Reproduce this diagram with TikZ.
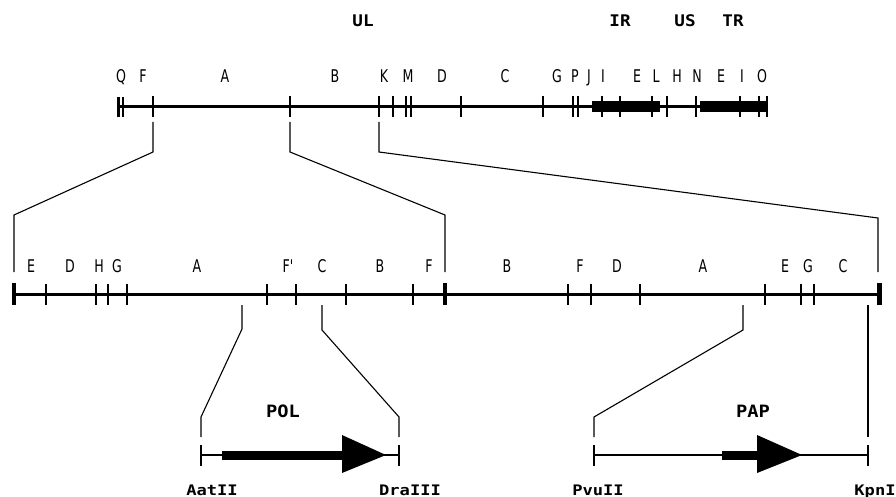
\documentclass[tikz,border=0pt]{standalone}
\usepackage{fontspec}
\newfontfamily\thinfont[FakeStretch=0.72]{DejaVu Sans}
\newfontfamily\boldfont[FakeStretch=1.1]{DejaVu Sans Mono Bold}
\newfontfamily\sitefont[FakeStretch=1.18]{DejaVu Sans Mono Bold}
\begin{document}
\begin{tikzpicture}[x=1pt,y=-1pt,
  seg/.style={font=\thinfont\fontsize{17.5}{17.5}\selectfont, inner sep=0pt, anchor=base},
  bold/.style={font=\boldfont\fontsize{16}{16}\selectfont, inner sep=0pt, anchor=base},
  site/.style={font=\sitefont\fontsize{14.5}{14.5}\selectfont, inner sep=0pt, anchor=base},
  mapline/.style={line width=3pt},
  tickmark/.style={line width=1.4pt},
  conn/.style={line width=1.1pt, line join=miter},
  endbar/.style={line width=4pt}]
\useasboundingbox (0,0) rectangle (896,497);
% ---------------- top map ----------------
\node[bold] (ul) at (363,27) {UL};
\node[bold] (ir) at (620,27) {IR};
\node[bold] (us) at (685,27) {US};
\node[bold] (tr) at (733,27) {TR};
\foreach \x/\t [count=\i] in {121/Q,143/F,225/A,335/B,384/K,408/M,442/D,505/C,557/G,575/P,589/J,603/I,637/E,656/L,677/H,697/N,721/E,742/I,762/O}
  \node[seg] (t\i) at (\x,83) {\t};
\draw[mapline] (118,107) -- (768,107);
\fill (592,101) rectangle (660,112);
\fill (700,101) rectangle (768,112);
\draw[line width=2.5pt] (118.5,97) -- (118.5,117);
\draw[line width=2.5pt] (123,97) -- (123,117);
\foreach \x in {153,290,379,393,406,411,461,543,573,578,602,620,652,667,696,740,759}
  \draw[tickmark] (\x,96) -- (\x,117);
\draw[line width=2pt] (767,96) -- (767,117);
% ---------------- middle map ----------------
\foreach \x/\t [count=\i] in {31/E,70/D,99/H,117/G,197/A,288/F',322/C,380/B,429/F,507/B,580/F,617/D,703/A,785/E,808/G,843/C}
  \node[seg] (m\i) at (\x,272) {\t};
\draw[mapline] (14,294) -- (879,294);
\foreach \x in {46,96,108,127,267,296,346,413,568,591,640,765,801,814}
  \draw[tickmark] (\x,284) -- (\x,305);
\draw[endbar] (14,283) -- (14,305);
\draw[endbar] (445,283) -- (445,305);
\draw[line width=5pt] (879,283) -- (879,305);
% ---------------- connectors top -> middle ----------------
\coordinate (a1) at (153,122); \coordinate (a2) at (14,272);
\coordinate (b1) at (290,122); \coordinate (b2) at (445,272);
\coordinate (c1) at (379,122); \coordinate (c2) at (878,272);
\draw[conn] (a1) -- (153,152) -- (14,215) -- (a2);
\draw[conn] (b1) -- (290,152) -- (445,215) -- (b2);
\draw[conn] (c1) -- (379,152) -- (878,218) -- (c2);
% ---------------- connectors middle -> bottom ----------------
\coordinate (d1) at (242,305); \coordinate (d2) at (201,437);
\coordinate (e1) at (322,305); \coordinate (e2) at (399,437);
\coordinate (f1) at (743,305); \coordinate (f2) at (594,437);
\coordinate (g1) at (868,305); \coordinate (g2) at (868,437);
\draw[conn] (d1) -- (242,329) -- (201,417) -- (d2);
\draw[conn] (e1) -- (322,330) -- (399,417) -- (e2);
\draw[conn] (f1) -- (743,330) -- (594,417) -- (f2);
\draw[conn] (g1) -- (g2);
% ---------------- POL ----------------
\node[bold, font=\boldfont\fontsize{17}{17}\selectfont] (pol) at (283,417) {POL};
\draw[line width=2pt] (201,455) -- (399,455);
\draw[line width=2pt] (201,445) -- (201,466);
\draw[line width=2pt] (399,445) -- (399,466);
\fill (222,450.5) rectangle (343,459.5);
\fill (342,435) -- (386,455) -- (342,473) -- cycle;
% ---------------- PAP ----------------
\node[bold, font=\boldfont\fontsize{17}{17}\selectfont] (pap) at (753,417) {PAP};
\draw[line width=2pt] (594,455) -- (868,455);
\draw[line width=2pt] (594,445) -- (594,466);
\draw[line width=2pt] (868,445) -- (868,466);
\fill (722,450.5) rectangle (758,459.5);
\fill (757,435) -- (802,455) -- (757,473) -- cycle;
% ---------------- site labels ----------------
\node[site] (aat) at (212,495) {AatII};
\node[site] (dra) at (410,495) {DraIII};
\node[site] (pvu) at (598,495) {PvuII};
\node[site] (kpn) at (875,495) {KpnI};
\end{tikzpicture}
\end{document}
